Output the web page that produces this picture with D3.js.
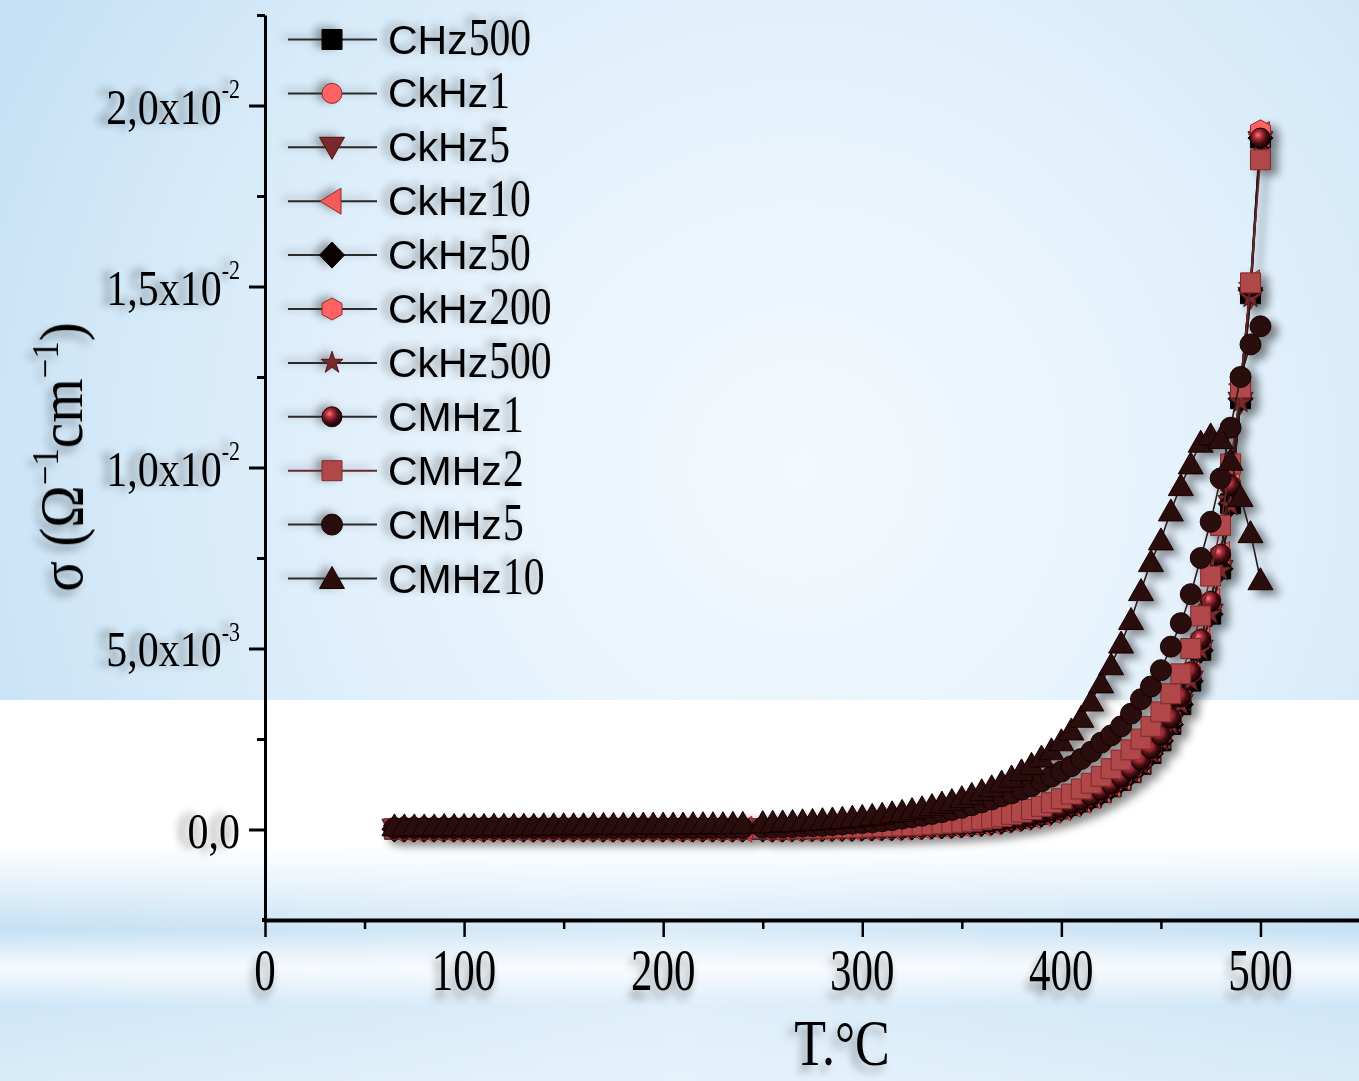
<!DOCTYPE html>
<html><head><meta charset="utf-8">
<script src="https://cdn.jsdelivr.net/npm/d3@7"></script>
<style>body{margin:0;overflow:hidden;background:#fff}svg{display:block}</style>
</head><body>
<svg id="chart" width="1359" height="1081"></svg>
<script>
// ---------------- DATA (sigma in units of 1e-3 Ohm^-1 cm^-1) ----------------
const tempsRun1 = [65,70,75,80,85,90,95,100,105,110,115,120,125,130,135,140,145,150,155,160,165,170,175,180,185,190,195,200,205,210,215,220,225,230,235,240];
const tempsRun2 = [250,255,260,265,270,275,280,285,290,295,300,305,310,315,320,325,330,335,340,345,350,355,360,365,370,375,380,385,390,395,400,405,410,415,420,425,430,435,440,445,450,455,460,465,470,475,480,485,490,495,500];

const seriesNames = ["CHz500","CkHz1","CkHz5","CkHz10","CkHz50","CkHz200","CkHz500","CMHz1","CMHz2","CMHz5","CMHz10"];

const CHz500_run1 = [0.01,0.01,0.01,0.01,0.01,0.01,0.01,0.01,0.01,0.01,0.01,0.01,0.01,0.01,0.01,0.01,0.01,0.01,0.01,0.01,0.01,0.01,0.01,0.01,0.01,0.01,0.01,0.01,0.01,0.01,0.01,0.01,0.01,0.01,0.01,0.01];
const CHz500_run2 = [0.01,0.01,0.01,0.02,0.02,0.02,0.02,0.03,0.03,0.03,0.04,0.04,0.05,0.05,0.06,0.07,0.08,0.09,0.10,0.11,0.13,0.15,0.17,0.20,0.23,0.27,0.31,0.36,0.42,0.49,0.57,0.66,0.76,0.88,1.02,1.18,1.36,1.57,1.80,2.10,2.45,2.90,3.45,4.10,4.95,5.95,7.20,9.00,11.90,14.80,19.10];
const CkHz1_run1 = [0.01,0.01,0.01,0.01,0.01,0.01,0.01,0.01,0.01,0.01,0.01,0.01,0.01,0.01,0.01,0.01,0.01,0.01,0.01,0.01,0.01,0.01,0.01,0.01,0.01,0.01,0.01,0.01,0.01,0.01,0.01,0.01,0.01,0.01,0.01,0.01];
const CkHz1_run2 = [0.01,0.01,0.01,0.02,0.02,0.02,0.02,0.03,0.03,0.03,0.04,0.04,0.05,0.05,0.06,0.07,0.08,0.10,0.11,0.12,0.14,0.16,0.18,0.21,0.25,0.29,0.33,0.38,0.45,0.52,0.60,0.70,0.81,0.93,1.08,1.25,1.44,1.66,1.91,2.23,2.60,3.07,3.66,4.35,5.25,6.30,7.60,9.50,12.30,15.00,19.20];
const CkHz5_run1 = [0.01,0.01,0.01,0.01,0.01,0.01,0.01,0.01,0.01,0.01,0.01,0.01,0.01,0.01,0.01,0.01,0.01,0.01,0.01,0.01,0.01,0.01,0.01,0.01,0.01,0.01,0.01,0.01,0.01,0.01,0.01,0.01,0.01,0.01,0.01,0.01];
const CkHz5_run2 = [0.01,0.01,0.01,0.02,0.02,0.02,0.02,0.03,0.03,0.03,0.04,0.04,0.05,0.05,0.06,0.07,0.08,0.09,0.10,0.11,0.13,0.15,0.17,0.20,0.23,0.27,0.31,0.36,0.42,0.49,0.57,0.66,0.76,0.88,1.02,1.18,1.36,1.57,1.80,2.10,2.45,2.90,3.45,4.10,4.95,5.95,7.15,8.95,11.80,14.70,19.00];
const CkHz10_run1 = [0.01,0.01,0.01,0.01,0.01,0.01,0.01,0.01,0.01,0.01,0.01,0.01,0.01,0.01,0.01,0.01,0.01,0.01,0.01,0.01,0.01,0.01,0.01,0.01,0.01,0.01,0.01,0.01,0.01,0.01,0.01,0.01,0.01,0.01,0.01,0.01];
const CkHz10_run2 = [0.01,0.01,0.01,0.02,0.02,0.02,0.02,0.03,0.03,0.03,0.04,0.04,0.05,0.05,0.06,0.07,0.08,0.10,0.11,0.12,0.14,0.16,0.18,0.21,0.25,0.29,0.33,0.38,0.45,0.52,0.60,0.70,0.81,0.93,1.08,1.25,1.44,1.66,1.91,2.23,2.60,3.07,3.66,4.35,5.25,6.30,7.60,9.50,12.30,15.10,19.20];
const CkHz50_run1 = [0.01,0.01,0.01,0.01,0.01,0.01,0.01,0.01,0.01,0.01,0.01,0.01,0.01,0.01,0.01,0.01,0.01,0.01,0.01,0.01,0.01,0.01,0.01,0.01,0.01,0.01,0.01,0.01,0.01,0.01,0.01,0.01,0.01,0.01,0.01,0.01];
const CkHz50_run2 = [0.01,0.01,0.01,0.02,0.02,0.02,0.02,0.03,0.03,0.03,0.04,0.04,0.05,0.05,0.06,0.07,0.08,0.09,0.10,0.11,0.13,0.15,0.17,0.20,0.23,0.27,0.31,0.36,0.42,0.49,0.57,0.66,0.76,0.88,1.02,1.18,1.36,1.57,1.80,2.10,2.45,2.90,3.45,4.10,4.95,5.95,7.20,9.00,11.90,14.90,19.10];
const CkHz200_run1 = [0.01,0.01,0.01,0.01,0.01,0.01,0.01,0.01,0.01,0.01,0.01,0.01,0.01,0.01,0.01,0.01,0.01,0.01,0.01,0.01,0.01,0.01,0.01,0.01,0.01,0.01,0.01,0.01,0.01,0.01,0.01,0.01,0.01,0.01,0.01,0.01];
const CkHz200_run2 = [0.01,0.01,0.01,0.02,0.02,0.02,0.02,0.03,0.03,0.03,0.04,0.04,0.05,0.05,0.06,0.07,0.08,0.10,0.11,0.12,0.14,0.16,0.18,0.21,0.25,0.29,0.33,0.38,0.45,0.52,0.60,0.70,0.81,0.93,1.08,1.25,1.44,1.66,1.91,2.23,2.60,3.07,3.66,4.35,5.25,6.30,7.60,9.50,12.30,15.00,19.30];
const CkHz500_run1 = [0.01,0.01,0.01,0.01,0.01,0.01,0.01,0.01,0.01,0.01,0.01,0.01,0.01,0.01,0.01,0.01,0.01,0.01,0.01,0.01,0.01,0.01,0.01,0.01,0.01,0.01,0.01,0.01,0.01,0.01,0.01,0.01,0.01,0.01,0.01,0.01];
const CkHz500_run2 = [0.01,0.01,0.01,0.02,0.02,0.02,0.02,0.03,0.03,0.03,0.04,0.04,0.05,0.05,0.06,0.07,0.08,0.09,0.10,0.11,0.13,0.15,0.17,0.20,0.23,0.27,0.31,0.36,0.42,0.49,0.57,0.66,0.76,0.88,1.02,1.18,1.36,1.57,1.80,2.10,2.45,2.90,3.45,4.10,4.95,5.95,7.15,8.95,11.80,14.70,19.00];
const CMHz1_run1 = [0.01,0.01,0.01,0.01,0.01,0.01,0.01,0.01,0.01,0.01,0.01,0.01,0.01,0.01,0.01,0.01,0.01,0.01,0.01,0.01,0.01,0.01,0.01,0.01,0.01,0.01,0.01,0.01,0.01,0.01,0.01,0.01,0.01,0.01,0.01,0.01];
const CMHz1_run2 = [0.01,0.01,0.01,0.02,0.02,0.02,0.02,0.03,0.03,0.03,0.04,0.04,0.05,0.05,0.06,0.07,0.08,0.10,0.11,0.12,0.14,0.16,0.18,0.21,0.25,0.29,0.33,0.38,0.45,0.52,0.60,0.70,0.81,0.93,1.08,1.25,1.44,1.66,1.91,2.23,2.60,3.07,3.66,4.35,5.25,6.30,7.60,9.50,12.30,15.00,19.10];
const CMHz2_run1 = [0.02,0.02,0.02,0.02,0.02,0.02,0.02,0.02,0.02,0.02,0.02,0.02,0.02,0.02,0.02,0.02,0.02,0.02,0.02,0.02,0.02,0.02,0.02,0.02,0.02,0.02,0.02,0.02,0.02,0.02,0.02,0.02,0.02,0.02,0.02,0.02];
const CMHz2_run2 = [0.02,0.02,0.02,0.03,0.03,0.03,0.04,0.04,0.05,0.05,0.06,0.07,0.08,0.09,0.10,0.11,0.12,0.14,0.16,0.18,0.20,0.23,0.27,0.31,0.36,0.42,0.48,0.55,0.64,0.74,0.85,0.98,1.12,1.28,1.47,1.68,1.92,2.20,2.50,2.85,3.25,3.75,4.30,5.00,5.90,7.00,8.40,10.10,12.20,15.10,18.50];
const CMHz5_run1 = [0.04,0.04,0.04,0.04,0.04,0.04,0.04,0.04,0.04,0.04,0.04,0.04,0.04,0.04,0.04,0.04,0.04,0.04,0.04,0.04,0.04,0.04,0.04,0.04,0.04,0.04,0.04,0.04,0.04,0.04,0.04,0.04,0.04,0.04,0.04,0.04];
const CMHz5_run2 = [0.05,0.05,0.06,0.07,0.08,0.09,0.10,0.12,0.14,0.16,0.18,0.20,0.23,0.26,0.30,0.34,0.38,0.43,0.48,0.54,0.60,0.67,0.75,0.83,0.92,1.00,1.10,1.20,1.33,1.46,1.60,1.75,1.95,2.15,2.40,2.60,2.85,3.20,3.60,3.95,4.40,5.05,5.70,6.50,7.50,8.50,9.70,11.10,12.50,13.40,13.90];
const CMHz10_run1 = [0.10,0.10,0.10,0.10,0.10,0.11,0.11,0.11,0.11,0.11,0.12,0.12,0.12,0.12,0.12,0.13,0.13,0.13,0.13,0.13,0.14,0.14,0.14,0.14,0.14,0.15,0.15,0.15,0.15,0.15,0.16,0.16,0.16,0.16,0.17,0.17];
const CMHz10_run2 = [0.19,0.20,0.21,0.22,0.24,0.25,0.27,0.29,0.31,0.34,0.36,0.39,0.42,0.46,0.50,0.55,0.60,0.66,0.73,0.80,0.88,0.97,1.07,1.18,1.31,1.45,1.62,1.80,2.00,2.20,2.45,2.75,3.10,3.55,4.05,4.55,5.15,5.80,6.60,7.40,8.00,8.80,9.50,10.10,10.70,10.90,10.80,10.20,9.20,8.20,6.90];

const yMajorTicks = [0, 5, 10, 15, 20];
const yTickMantissa = ["0,0", "5,0x10", "1,0x10", "1,5x10", "2,0x10"];
const yTickExponent = ["", "-3", "-2", "-2", "-2"];
const yMinorTicks = [2.5, 7.5, 12.5, 17.5, 22.5];
const xMajorTicks = [0, 100, 200, 300, 400, 500];
const xTickLabels = ["0", "100", "200", "300", "400", "500"];
const xMinorTicks = [50, 150, 250, 350, 450, 550];

// ---------------- SETUP ----------------
const W = 1359, H = 1081;
const svg = d3.select("#chart");
const defs = svg.append("defs");

const bgTop = defs.append("radialGradient").attr("id","bgTop").attr("gradientUnits","userSpaceOnUse")
  .attr("cx",800).attr("cy",470).attr("r",880);
[[0,"#f4f9fe"],[0.4,"#e7f3fc"],[0.75,"#d6eaf9"],[1,"#c6e1f5"]].forEach(([o,c]) =>
  bgTop.append("stop").attr("offset",o).attr("stop-color",c));
const bgBot = defs.append("linearGradient").attr("id","bgBot").attr("x1",0).attr("y1",0).attr("x2",0).attr("y2",1);
[[0,"#ffffff"],[0.12,"#edf6fc"],[0.36,"#c5e0f4"],[0.52,"#f6fafe"],[0.68,"#cfe6f7"],[1,"#d9ecf9"]].forEach(([o,c]) =>
  bgBot.append("stop").attr("offset",o).attr("stop-color",c));
const bgBotH = defs.append("linearGradient").attr("id","bgBotH").attr("x1",0).attr("y1",0).attr("x2",1).attr("y2",0);
[[0,"#ffffff",0],[0.5,"#ffffff",0.35],[1,"#ffffff",0]].forEach(([o,c,a]) =>
  bgBotH.append("stop").attr("offset",o).attr("stop-color",c).attr("stop-opacity",a));

const sphere = defs.append("radialGradient").attr("id","sphere").attr("cx",0.38).attr("cy",0.35).attr("r",0.65);
[[0,"#f27a88"],[0.3,"#b02c3a"],[0.7,"#3a0a0e"],[1,"#1a0304"]].forEach(([o,c]) =>
  sphere.append("stop").attr("offset",o).attr("stop-color",c));

function shadow(id, dx, dy, sd, op) {
  const f = defs.append("filter").attr("id", id).attr("x","-30%").attr("y","-30%").attr("width","160%").attr("height","160%");
  f.append("feDropShadow").attr("dx",dx).attr("dy",dy).attr("stdDeviation",sd)
    .attr("flood-color","#000").attr("flood-opacity",op);
}
shadow("shData", 7, 5, 4, 0.45);
shadow("shYLab", -9, -1, 4, 0.45);
shadow("shXLab", -3, 8, 4, 0.4);
shadow("shLeg", -6, -2, 4, 0.35);
shadow("shTitle", -5, 6, 4, 0.35);

svg.append("rect").attr("x",0).attr("y",0).attr("width",W).attr("height",700).attr("fill","url(#bgTop)");
svg.append("rect").attr("x",0).attr("y",700).attr("width",W).attr("height",145).attr("fill","#ffffff");
svg.append("rect").attr("x",0).attr("y",845).attr("width",W).attr("height",H-845).attr("fill","url(#bgBot)");
svg.append("rect").attr("x",0).attr("y",845).attr("width",W).attr("height",H-845).attr("fill","url(#bgBotH)");

const x = d3.scaleLinear().domain([0, 550]).range([265, 1360]);
const y = d3.scaleLinear().domain([-2.5, 22.5]).range([920, 15]);

// ---------------- MARKERS ----------------
const shapes = {
  square: "M-10,-10h20v20h-20Z",
  circle: d3.symbol().type(d3.symbolCircle).size(Math.PI * 100)(),
  bigcircle: d3.symbol().type(d3.symbolCircle).size(Math.PI * 110)(),
  triDown: "M-12.5,-10L12.5,-10L0,12Z",
  triLeft: "M9,-13L9,13L-12,0Z",
  diamond: "M0,-13L12.5,0L0,13L-12.5,0Z",
  hexagon: "M0,-11L10,-5.5L10,5.5L0,11L-10,5.5L-10,-5.5Z",
  star: d3.symbol().type(d3.symbolStar).size(150)(),
  triUp: "M0,-12L12.5,10L-12.5,10Z"
};
const styles = {
  CHz500:  {shape:"square",   fill:"#000000", stroke:"#000000", line:"#1a1a1a"},
  CkHz1:   {shape:"circle",   fill:"#ff6262", stroke:"#8a2a2a", line:"#2a1a1a"},
  CkHz5:   {shape:"triDown",  fill:"#7a2a2c", stroke:"#4a1416", line:"#2a1a1a"},
  CkHz10:  {shape:"triLeft",  fill:"#f45a5a", stroke:"#8a2a2a", line:"#2a1a1a"},
  CkHz50:  {shape:"diamond",  fill:"#0a0000", stroke:"#000000", line:"#1a1a1a"},
  CkHz200: {shape:"hexagon",  fill:"#ff6262", stroke:"#8a2a2a", line:"#2a1a1a"},
  CkHz500: {shape:"star",     fill:"#7a2a2c", stroke:"#4a1416", line:"#2a1a1a"},
  CMHz1:   {shape:"circle",   fill:"url(#sphere)", stroke:"#1a0304", line:"#2a1a1a"},
  CMHz2:   {shape:"square",   fill:"#b0474a", stroke:"#7a2a2c", line:"#6a2a2c"},
  CMHz5:   {shape:"bigcircle",fill:"#2a0a0c", stroke:"#1a0304", line:"#2a1a1a"},
  CMHz10:  {shape:"triUp",    fill:"#2a0a0c", stroke:"#1a0304", line:"#2a1a1a"}
};
const seriesData = {
  CHz500: [CHz500_run1, CHz500_run2], CkHz1: [CkHz1_run1, CkHz1_run2], CkHz5: [CkHz5_run1, CkHz5_run2],
  CkHz10: [CkHz10_run1, CkHz10_run2], CkHz50: [CkHz50_run1, CkHz50_run2], CkHz200: [CkHz200_run1, CkHz200_run2],
  CkHz500: [CkHz500_run1, CkHz500_run2], CMHz1: [CMHz1_run1, CMHz1_run2], CMHz2: [CMHz2_run1, CMHz2_run2],
  CMHz5: [CMHz5_run1, CMHz5_run2], CMHz10: [CMHz10_run1, CMHz10_run2]
};

const dataG = svg.append("g").attr("filter","url(#shData)");
const line = d3.line().x(d => x(d[0])).y(d => y(d[1]));
seriesNames.forEach(name => {
  const [r1, r2] = seriesData[name];
  const pts = tempsRun1.map((t,i) => [t, r1[i]]).concat(tempsRun2.map((t,i) => [t, r2[i]]));
  const st = styles[name];
  const g = dataG.append("g");
  g.append("path").attr("d", line(pts)).attr("fill","none").attr("stroke", st.line).attr("stroke-width",1.6);
  g.selectAll("path.m").data(pts).join("path").attr("class","m")
    .attr("d", shapes[st.shape])
    .attr("transform", d => `translate(${x(d[0])},${y(d[1])})`)
    .attr("fill", st.fill).attr("stroke", st.stroke).attr("stroke-width", 1);
});

// ---------------- AXES ----------------
const axY = svg.append("g").attr("transform","translate(265,0)")
  .call(d3.axisLeft(y).tickValues(yMajorTicks).tickSize(16).tickSizeOuter(0).tickFormat(""));
axY.select(".domain").attr("stroke","#000").attr("stroke-width",3);
axY.selectAll(".tick line").attr("stroke","#000").attr("stroke-width",3);
const axYm = svg.append("g").attr("transform","translate(265,0)")
  .call(d3.axisLeft(y).tickValues(yMinorTicks).tickSize(8).tickFormat(""));
axYm.select(".domain").remove();
axYm.selectAll(".tick line").attr("stroke","#000").attr("stroke-width",3);

const axX = svg.append("g").attr("transform","translate(0,920)")
  .call(d3.axisBottom(x).tickValues(xMajorTicks).tickSize(17).tickSizeOuter(0).tickFormat(""));
axX.select(".domain").attr("stroke","#000").attr("stroke-width",4);
axX.selectAll(".tick line").attr("stroke","#000").attr("stroke-width",2.5);
const axXm = svg.append("g").attr("transform","translate(0,920)")
  .call(d3.axisBottom(x).tickValues(xMinorTicks).tickSize(9).tickFormat(""));
axXm.select(".domain").remove();
axXm.selectAll(".tick line").attr("stroke","#000").attr("stroke-width",2.5);
svg.append("line").attr("x1",262).attr("x2",265).attr("y1",920).attr("y2",920).attr("stroke","#000").attr("stroke-width",4);

// y tick labels
const ylab = svg.append("g").attr("filter","url(#shYLab)");
yMajorTicks.forEach((v,i) => {
  const t = ylab.append("text")
    .attr("transform", `translate(240,${y(v)+18}) scale(1,1.22)`)
    .attr("text-anchor","end").attr("font-family","'Liberation Serif','Times New Roman',serif")
    .attr("font-size",42).attr("fill","#000");
  t.append("tspan").text(yTickMantissa[i]);
  if (yTickExponent[i]) t.append("tspan").attr("font-size",22).attr("dy",-21).text(yTickExponent[i]);
});

// x tick labels
const xlab = svg.append("g").attr("filter","url(#shXLab)");
xMajorTicks.forEach((v,i) => {
  xlab.append("text")
    .attr("transform", `translate(${x(v)},990) scale(1,1.37)`)
    .attr("text-anchor","middle").attr("font-family","'Liberation Serif','Times New Roman',serif")
    .attr("font-size",43).attr("fill","#000").text(xTickLabels[i]);
});

// axis titles
const titles = svg.append("g").attr("filter","url(#shTitle)");
const xt = titles.append("text").attr("transform","translate(842,1065) scale(1,1.28)")
  .attr("text-anchor","middle").attr("font-family","'Liberation Serif','Times New Roman',serif")
  .attr("font-size",52).attr("fill","#000");
xt.append("tspan").text("T.");
xt.append("tspan").attr("font-size",50).text("°");
xt.append("tspan").text("C");

const yt = titles.append("text").attr("transform","translate(82,457) rotate(-90) scale(0.92,1)")
  .attr("text-anchor","middle").attr("font-family","'Liberation Serif','Times New Roman',serif")
  .attr("font-size",62).attr("fill","#000");
yt.append("tspan").text("σ (Ω");
yt.append("tspan").attr("font-size",38).attr("dy",-24).text("−1");
yt.append("tspan").attr("dy",24).text("cm");
yt.append("tspan").attr("font-size",38).attr("dy",-24).text("−1");
yt.append("tspan").attr("dy",24).text(")");

// ---------------- LEGEND ----------------
const leg = svg.append("g");
seriesNames.forEach((name,i) => {
  const cy = 39.5 + i * 53.9;
  const st = styles[name];
  const g = leg.append("g").attr("filter","url(#shLeg)");
  g.append("line").attr("x1",288).attr("x2",377).attr("y1",cy).attr("y2",cy)
    .attr("stroke", name === "CMHz2" ? "#6a2a2c" : "#2a2a2a").attr("stroke-width",2);
  g.append("path").attr("d", shapes[st.shape]).attr("transform",`translate(332,${cy})`)
    .attr("fill", st.fill).attr("stroke", st.stroke).attr("stroke-width",1);
  const m = name.match(/^(\D+)(\d+)$/);
  const t1 = g.append("text").attr("x",388).attr("y",cy+14)
    .attr("font-family","'Liberation Sans',Arial,sans-serif").attr("font-size",41).attr("fill","#000").text(m[1]);
  const w = t1.node().getComputedTextLength();
  g.append("text").attr("transform",`translate(${388 + w + 1},${cy+15}) scale(0.8,1)`)
    .attr("font-family","'Liberation Serif','Times New Roman',serif").attr("font-size",52)
    .attr("fill","#000").text(m[2]);
});
</script>
</body></html>
